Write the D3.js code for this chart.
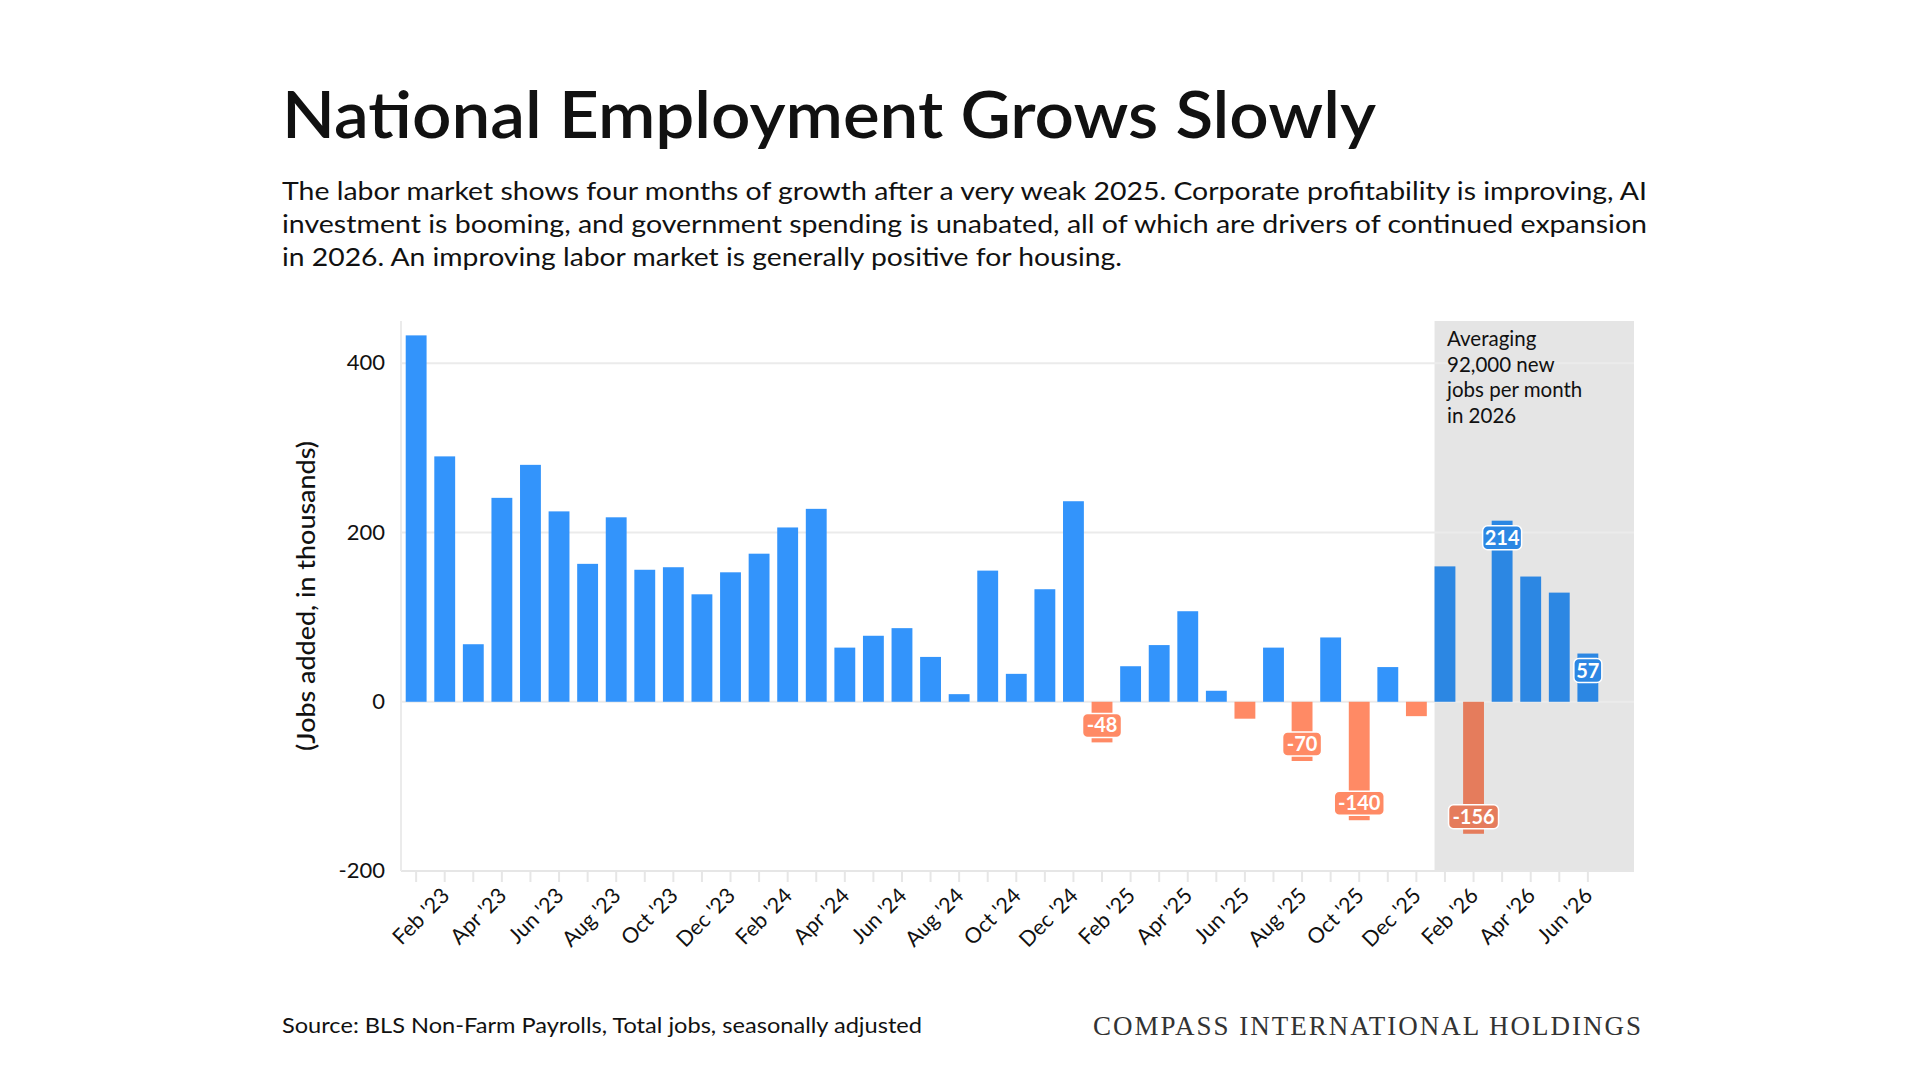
<!DOCTYPE html>
<html><head><meta charset="utf-8">
<script src="https://cdn.jsdelivr.net/npm/d3@7"></script>
<style>body{margin:0;background:#fff}svg{display:block}</style>
</head><body><svg id="c" width="1920" height="1079"></svg>
<script>
const months = ["Jan '23","Feb '23","Mar '23","Apr '23","May '23","Jun '23","Jul '23","Aug '23","Sep '23","Oct '23","Nov '23","Dec '23",
"Jan '24","Feb '24","Mar '24","Apr '24","May '24","Jun '24","Jul '24","Aug '24","Sep '24","Oct '24","Nov '24","Dec '24",
"Jan '25","Feb '25","Mar '25","Apr '25","May '25","Jun '25","Jul '25","Aug '25","Sep '25","Oct '25","Nov '25","Dec '25",
"Jan '26","Feb '26","Mar '26","Apr '26","May '26","Jun '26"];
const jobs = [433,290,68,241,280,225,163,218,156,159,127,153,
175,206,228,64,78,87,53,9,155,33,133,237,
-48,42,67,107,13,-20,64,-70,76,-140,41,-17,
160,-156,214,148,129,57];
const labeled = ["Jan '25","Aug '25","Oct '25","Feb '26","Mar '26","Jun '26"];
const yTicks = [-200,0,200,400];
const highlightStart = "Jan '26";

const svg = d3.select("#c");
const F = "Lato, 'Open Sans', sans-serif";
const x = d3.scaleBand().domain(months).range([398,1606]).padding(0.27);
const y = d3.scaleLinear().domain([-200,450]).range([871,321]);
const hi = months.indexOf(highlightStart);

svg.append("rect").attr("x", x(highlightStart)).attr("y", y(450))
  .attr("width", 1634-x(highlightStart)).attr("height", y(-200)-y(450)).attr("fill","#e5e5e5");

svg.append("g").selectAll("line").data(yTicks).join("line")
  .attr("x1",401).attr("x2",1634).attr("y1",d=>y(d)).attr("y2",d=>y(d))
  .attr("stroke",d=>d===-200?"#e6e6e6":"#ebebeb").attr("stroke-width",2);
svg.append("line").attr("x1",401).attr("x2",401).attr("y1",y(450)).attr("y2",y(-200)).attr("stroke","#ebebeb").attr("stroke-width",2);

svg.append("g").selectAll("text").data(yTicks).join("text")
  .attr("x",385).attr("y",d=>y(d)+7).attr("text-anchor","end")
  .attr("font-family",F).attr("font-size",22).attr("fill","#111").text(d=>d);
svg.append("text").attr("transform","translate(315,596) rotate(-90)").attr("text-anchor","middle")
  .attr("font-family",F).attr("font-size",25).attr("font-weight",500).attr("fill","#111")
  .attr("textLength",310).attr("lengthAdjust","spacingAndGlyphs").text("(Jobs added, in thousands)");

svg.append("g").selectAll("line").data(months).join("line")
  .attr("x1",d=>x(d)+x.bandwidth()/2).attr("x2",d=>x(d)+x.bandwidth()/2)
  .attr("y1",872).attr("y2",882).attr("stroke","#e6e6e6").attr("stroke-width",2);
svg.append("g").selectAll("text").data(months.filter((d,i)=>i%2===1)).join("text")
  .attr("transform",d=>`translate(${x(d)+x.bandwidth()/2+6},${897}) rotate(-45)`)
  .attr("text-anchor","end").attr("font-family",F).attr("font-size",21.5).attr("fill","#111").text(d=>d);

const col = (d,i)=> d>=0 ? (i>=hi?"#2c87e3":"#3394fb") : (i>=hi?"#e57c5c":"#ff8a65");
svg.append("g").selectAll("rect").data(jobs).join("rect")
  .attr("x",(d,i)=>x(months[i])).attr("width",x.bandwidth())
  .attr("y",d=>y(Math.max(0,d))).attr("height",d=>Math.abs(y(d)-y(0)))
  .attr("fill",(d,i)=>col(d,i));

const lab = svg.append("g");
jobs.forEach((d,i)=>{
  if(!labeled.includes(months[i])) return;
  const cx = x(months[i])+x.bandwidth()/2;
  const cy = y(d) + (d>=0?17:-17);
  const t = String(d);
  const w = t.length*11+6;
  lab.append("rect").attr("x",cx-w/2).attr("y",cy-12).attr("width",w).attr("height",24).attr("rx",5)
    .attr("fill",col(d,i)).attr("stroke","#fff").attr("stroke-width",1.5);
  lab.append("text").attr("x",cx).attr("y",cy+7).attr("text-anchor","middle")
    .attr("font-family",F).attr("font-size",20).attr("font-weight",700).attr("fill","#fff").text(t);
});

["Averaging","92,000 new","jobs per month","in 2026"].forEach((t,i)=>
  svg.append("text").attr("x",1447).attr("y",346+i*25.5).attr("font-family",F).attr("font-size",20.5).attr("fill","#111").text(t));

svg.append("text").attr("x",282).attr("y",138).attr("font-family",F).attr("font-size",66).attr("font-weight",600)
  .attr("fill","#111").attr("textLength",1094).attr("lengthAdjust","spacingAndGlyphs").text("National Employment Grows Slowly");
const sub = ["The labor market shows four months of growth after a very weak 2025. Corporate profitability is improving, AI",
"investment is booming, and government spending is unabated, all of which are drivers of continued expansion",
"in 2026. An improving labor market is generally positive for housing."];
const subW = [1365,1365,840];
sub.forEach((t,i)=>svg.append("text").attr("x",282).attr("y",200+i*33).attr("font-family",F).attr("font-size",25)
  .attr("fill","#111").attr("textLength",subW[i]).attr("lengthAdjust","spacingAndGlyphs").text(t));

svg.append("text").attr("x",282).attr("y",1033).attr("font-family",F).attr("font-size",22).attr("fill","#111")
  .attr("textLength",640).attr("lengthAdjust","spacingAndGlyphs").text("Source: BLS Non-Farm Payrolls, Total jobs, seasonally adjusted");
svg.append("text").attr("x",1643).attr("y",1035).attr("text-anchor","end").attr("font-family","'Liberation Serif', serif")
  .attr("font-size",27).attr("letter-spacing",2).attr("fill","#333").text("COMPASS INTERNATIONAL HOLDINGS");
</script></body></html>
